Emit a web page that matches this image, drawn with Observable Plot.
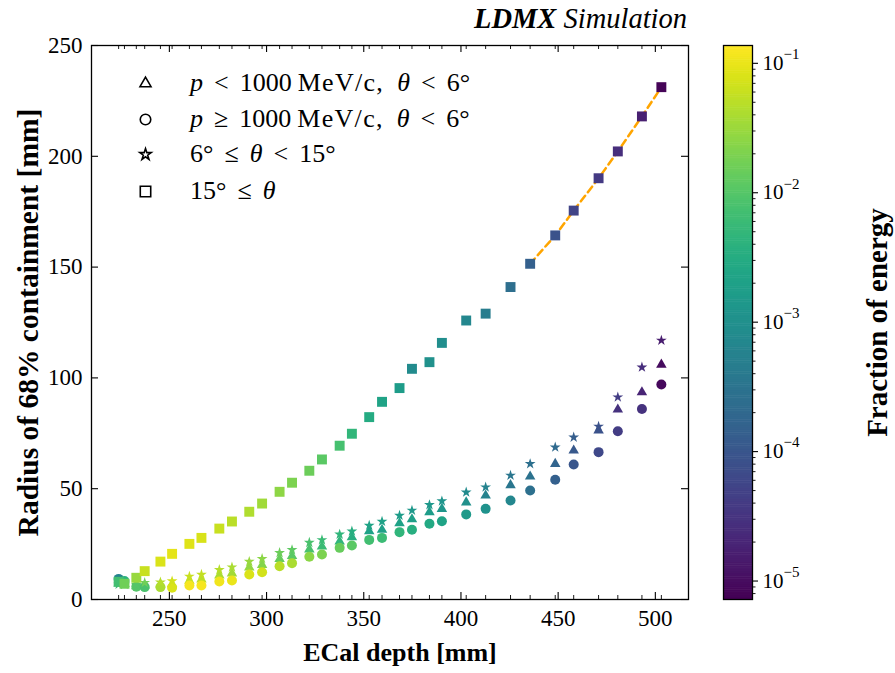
<!DOCTYPE html>
<html><head><meta charset="utf-8">
<script src="https://cdn.jsdelivr.net/npm/d3@7"></script>
<script src="https://cdn.jsdelivr.net/npm/@observablehq/plot@0.6"></script>
<style>
body{margin:0;background:#fff;}
#wrap{position:relative;width:895px;height:673px;font-family:"Liberation Serif","DejaVu Serif",serif;color:#000;}
#main{position:absolute;left:0;top:0;}
#cbar{position:absolute;left:700px;top:0;}
.title{position:absolute;right:208px;top:3px;font-size:28.5px;font-style:italic;white-space:nowrap;}
.leg{position:absolute;left:190px;font-size:26px;line-height:26px;height:26px;white-space:nowrap;}
.rel{display:inline-block;margin:0 11px;}
.u{font-size:26px;letter-spacing:1.3px;margin-left:6px;}
.th{margin-left:13px;}
</style></head><body>
<div id="wrap">
  <div id="main"></div>
  <div id="cbar"></div>
  <div class="title"><b>LDMX</b> Simulation</div>
  <div id="legtext"></div>
</div>
<script>
// ---- data ----
const layers = [223.9, 226.9, 233.0, 237.3, 245.4, 251.4, 260.3, 266.5, 275.7, 282.2, 291.1, 297.7, 306.7, 313.1, 322.0, 328.5, 337.6, 343.9, 352.8, 359.4, 368.4, 374.8, 383.8, 390.2, 402.7, 412.7, 425.5, 435.6, 448.5, 458.0, 470.8, 480.7, 493.1, 503.1];
const radiusTri = [7.2, 7.0, 6.0, 6.3, 6.8, 7.0, 8.5, 9.0, 10.9, 11.8, 14.5, 15.6, 18.3, 19.6, 22.6, 23.9, 26.2, 28.1, 30.8, 31.5, 34.4, 36.2, 39.4, 40.9, 43.8, 46.9, 51.6, 55.5, 61.2, 67.2, 76.3, 85.7, 93.5, 106.0];
const radiusCirc = [9.3, 8.3, 5.8, 5.6, 5.6, 5.3, 6.3, 6.3, 8.1, 8.6, 11.3, 12.3, 15.0, 16.4, 19.3, 20.3, 23.3, 24.4, 26.9, 27.8, 30.4, 31.5, 34.2, 35.3, 38.4, 40.9, 44.7, 49.2, 54.0, 60.9, 66.5, 75.9, 86.0, 97.0];
const radiusStar = [6.8, 6.8, 6.6, 7.6, 7.8, 8.3, 10.4, 11.3, 13.4, 14.6, 17.1, 18.4, 21.1, 22.4, 25.7, 26.9, 29.4, 30.8, 33.4, 35.2, 37.9, 40.2, 42.7, 44.4, 48.4, 50.7, 56.0, 61.2, 68.7, 73.2, 78.1, 91.3, 104.8, 116.9];
const radiusSq = [8.0, 7.1, 9.8, 12.8, 17.1, 20.6, 25.1, 27.8, 32.0, 35.2, 39.6, 43.3, 48.6, 52.7, 58.1, 63.2, 69.4, 74.8, 82.3, 89.2, 95.4, 104.1, 107.1, 115.8, 125.9, 129.0, 141.0, 151.5, 164.3, 175.5, 190.1, 202.2, 218.0, 231.2];
const fracTri = [0.005, 0.007, 0.009, 0.01, 0.04, 0.06, 0.055, 0.05, 0.04, 0.035, 0.028, 0.022, 0.014, 0.011, 0.008, 0.006, 0.0045, 0.0035, 0.0021, 0.0019, 0.0021, 0.0018, 0.0016, 0.0013, 0.001, 0.0006, 0.00035, 0.0003, 0.00017, 0.00011, 0.000085, 0.000029, 0.000019, 0.0000095];
const fracCirc = [0.0006, 0.004, 0.01, 0.008, 0.04, 0.08, 0.12, 0.12, 0.11, 0.1, 0.08, 0.07, 0.05, 0.04, 0.025, 0.02, 0.014, 0.011, 0.007, 0.006, 0.0045, 0.0035, 0.0028, 0.0022, 0.0015, 0.0011, 0.0007, 0.00026, 0.00014, 0.0001, 0.00006, 0.000042, 0.000029, 0.000009];
const fracStar = [0.006, 0.008, 0.01, 0.016, 0.045, 0.07, 0.06, 0.055, 0.045, 0.04, 0.03, 0.025, 0.015, 0.012, 0.008, 0.006, 0.0045, 0.0035, 0.0022, 0.002, 0.0016, 0.0014, 0.0014, 0.0012, 0.0008, 0.0006, 0.00035, 0.00026, 0.00021, 0.00013, 0.000085, 0.000042, 0.000026, 0.000016];
const fracSq = [0.007, 0.016, 0.03, 0.06, 0.08, 0.09, 0.085, 0.075, 0.06, 0.05, 0.042, 0.034, 0.026, 0.02, 0.015, 0.011, 0.0075, 0.0048, 0.003, 0.0022, 0.0016, 0.0008, 0.001, 0.0009, 0.0007, 0.00045, 0.00025, 0.00014, 0.000085, 0.000052, 0.000039, 0.000026, 0.000017, 0.0000078];
const fitStartDepth = 435.6;
const legendLabels = [
  "<i>p</i><span class='rel'>&lt;</span>1000<span class='u'>MeV/c,</span><i class='th'>θ</i><span class='rel'>&lt;</span>6°",
  "<i>p</i><span class='rel'>≥</span>1000<span class='u'>MeV/c,</span><i class='th'>θ</i><span class='rel'>&lt;</span>6°",
  "6°<span class='rel'>≤</span><i>θ</i><span class='rel'>&lt;</span>15°",
  "15°<span class='rel'>≤</span><i>θ</i>"
];
const legendSymbols = ["triangle", "circle", "star", "square"];
const xTicks = [250, 300, 350, 400, 450, 500];
const yTicks = [0, 50, 100, 150, 200, 250];
const cbTicks = [1e-1, 1e-2, 1e-3, 1e-4, 1e-5];
const cbExponents = ["−1", "−2", "−3", "−4", "−5"];
const colorDomain = [7.2e-6, 0.1373];

// ---- build ----
const font = '"Liberation Serif","DejaVu Serif",serif';
const mk = (rs, fs) => layers.map((x, i) => ({x, r: rs[i], f: fs[i]}));
const tri = mk(radiusTri, fracTri), circ = mk(radiusCirc, fracCirc), star = mk(radiusStar, fracStar), sq = mk(radiusSq, fracSq);
const fit = sq.filter(d => d.x >= fitStartDepth);
const symR = {triangle: 3.9, circle: 5.0, star: 3.4, square: 5.6};
const color = {type: "log", scheme: "viridis", domain: colorDomain};

const W = 700, H = 673, mL = 91, mR = 12, mT = 45, mB = 74;
const pH = H - mT - mB, pW = W - mL - mR;
const legY = [83, 119, 154, 191];

const main = Plot.plot({
  width: W, height: H, marginLeft: mL, marginRight: mR, marginTop: mT, marginBottom: mB,
  x: {domain: [209.94, 517.06], axis: null},
  y: {domain: [0, 250], axis: null},
  color,
  style: {fontFamily: font, background: "white", color: "black"},
  marks: [
    Plot.line(fit, {x: "x", y: "r", stroke: "orange", strokeWidth: 2.5, strokeDasharray: "7,4.5"}),
    Plot.dot(tri, {x: "x", y: "r", fill: "f", symbol: "triangle", r: symR.triangle}),
    Plot.dot(circ, {x: "x", y: "r", fill: "f", symbol: "circle", r: symR.circle}),
    Plot.dot(star, {x: "x", y: "r", fill: "f", symbol: "star", r: symR.star}),
    Plot.dot(sq, {x: "x", y: "r", fill: "f", symbol: "square", r: symR.square}),
    // inward ticks
    Plot.ruleX(xTicks, {x: d => d, insetTop: pH - 7, stroke: "black", strokeWidth: 1.1}),
    Plot.ruleX(xTicks, {x: d => d, insetBottom: pH - 7, stroke: "black", strokeWidth: 1.1}),
    Plot.ruleX(layers, {x: d => d, insetTop: pH - 4, stroke: "black", strokeWidth: 0.9}),
    Plot.ruleX(layers, {x: d => d, insetBottom: pH - 4, stroke: "black", strokeWidth: 0.9}),
    Plot.ruleY(yTicks, {y: d => d, insetRight: pW - 7, stroke: "black", strokeWidth: 1.1}),
    Plot.ruleY(yTicks, {y: d => d, insetLeft: pW - 7, stroke: "black", strokeWidth: 1.1}),
    Plot.frame({stroke: "black", strokeWidth: 1.3}),
    Plot.text(xTicks, {x: d => d, frameAnchor: "bottom", dy: 26, text: d => String(d), fontSize: 23, fill: "black"}),
    Plot.text(yTicks, {y: d => d, frameAnchor: "left", dx: -9, textAnchor: "end", text: d => String(d), fontSize: 23, fill: "black"}),
    Plot.text(["ECal depth [mm]"], {frameAnchor: "bottom", dx: 10, dy: 61, textAnchor: "middle", fontSize: 26, fontWeight: "bold", fill: "black"}),
    Plot.text(["Radius of 68% containment [mm]"], {frameAnchor: "left", dx: -63, textAnchor: "middle", rotate: -90, fontSize: 29.5, fontWeight: "bold", fill: "black"}),
    ...legendSymbols.map((s, i) => Plot.dot([s], {frameAnchor: "top-left", dx: 54, dy: legY[i] - mT, symbol: s, r: symR[s] * 1.05, fill: "none", stroke: "black", strokeWidth: 1.6}))
  ]
});
document.getElementById("main").appendChild(main);

// legend text
const lt = document.getElementById("legtext");
legendLabels.forEach((t, i) => {
  const d = document.createElement("div");
  d.className = "leg";
  d.style.top = (legY[i] - 13) + "px";
  d.innerHTML = t;
  lt.appendChild(d);
});

// colorbar
const lo = Math.log10(colorDomain[0]), hi = Math.log10(colorDomain[1]);
const steps = d3.range(300).map(i => {
  const a = lo + (hi - lo) * i / 300, b = lo + (hi - lo) * (i + 1.3) / 300;
  return {y1: 10 ** a, y2: 10 ** Math.min(b, hi), v: 10 ** (lo + (hi - lo) * (i + 0.5) / 300)};
});
const minor = [];
for (let k = -6; k <= 0; k++) for (let m = 2; m <= 9; m++) {
  const v = m * 10 ** k;
  if (v > colorDomain[0] && v < colorDomain[1]) minor.push(v);
}
const cb = Plot.plot({
  width: 195, height: H, marginLeft: 23, marginRight: 143, marginTop: mT, marginBottom: mB,
  x: {domain: [0, 1], axis: null},
  y: {type: "log", domain: colorDomain, axis: null},
  color,
  style: {fontFamily: font, background: "transparent", color: "black"},
  marks: [
    Plot.rect(steps, {x1: 0, x2: 1, y1: "y1", y2: "y2", fill: "v"}),
    Plot.frame({stroke: "black", strokeWidth: 1.3}),
    Plot.ruleY(cbTicks, {y: d => d, insetLeft: 29, insetRight: -6, stroke: "black", strokeWidth: 1.1}),
    Plot.ruleY(minor, {y: d => d, insetLeft: 29, insetRight: -3.5, stroke: "black", strokeWidth: 0.9}),
    Plot.text(cbTicks, {y: d => d, frameAnchor: "right", dx: 10, textAnchor: "start", text: () => "10", fontSize: 21, fill: "black"}),
    Plot.text(cbTicks, {y: d => d, frameAnchor: "right", dx: 31, dy: -9, textAnchor: "start", text: (d, i) => cbExponents[i], fontSize: 15, fill: "black"}),
    Plot.text(["Fraction of energy"], {frameAnchor: "right", dx: 125, textAnchor: "middle", rotate: -90, fontSize: 29, fontWeight: "bold", fill: "black"})
  ]
});
document.getElementById("cbar").appendChild(cb);
</script>
</body></html>
